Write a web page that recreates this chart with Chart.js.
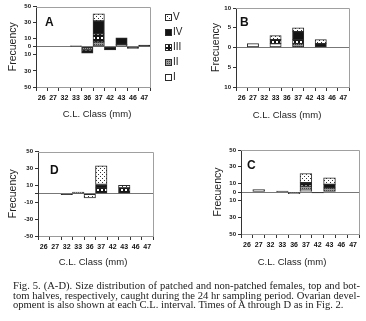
<!DOCTYPE html>
<html>
<head>
<meta charset="utf-8">
<script src="https://cdn.jsdelivr.net/npm/chart.js@4.4.1/dist/chart.umd.min.js"></script>
<style>
  html, body { margin: 0; padding: 0; background: #fff; }
  body { width: 366px; height: 321px; position: relative; overflow: hidden; font-family: "Liberation Sans", Arial, sans-serif; color: #222; }
  canvas.panel { position: absolute; }
  .letter { position: absolute; font: bold 12px/12px "Liberation Sans", Arial, sans-serif; color: #111; }
  .xtitle { position: absolute; width: 120px; margin-left: -60px; text-align: center; font: 9.5px/10px "Liberation Sans", Arial, sans-serif; color: #222; }
  .item { position: absolute; left: 165px; height: 10px; white-space: nowrap; font: 10px/10px "Liberation Sans", Arial, sans-serif; color: #222; }
  .item canvas { position: absolute; left: 0; top: 2px; }
  .item span { position: absolute; left: 8px; top: 0; }
  .caption { position: absolute; left: 13px; top: 281px; width: 347px; font: 10.6px/9.6px "Liberation Serif", "Times New Roman", serif; color: #1a1a1a; }
  .caption div { text-align: justify; text-align-last: justify; white-space: nowrap; }
  .caption div.last { text-align-last: left; }
</style>
</head>
<body>
<canvas id="chartA" class="panel" width="160" height="122" style="left:0;top:0"></canvas>
<canvas id="chartB" class="panel" width="163" height="122" style="left:203px;top:0"></canvas>
<canvas id="chartD" class="panel" width="165" height="130" style="left:0;top:140px"></canvas>
<canvas id="chartC" class="panel" width="166" height="130" style="left:200px;top:140px"></canvas>

<div class="letter" style="left:45px;top:16px">A</div>
<div class="letter" style="left:240px;top:16px">B</div>
<div class="letter" style="left:50px;top:164px">D</div>
<div class="letter" style="left:247px;top:159px">C</div>

<div class="xtitle" style="left:97px;top:109px">C.L. Class (mm)</div>
<div class="xtitle" style="left:287px;top:110px">C.L. Class (mm)</div>
<div class="xtitle" style="left:93px;top:257px">C.L. Class (mm)</div>
<div class="xtitle" style="left:292px;top:257px">C.L. Class (mm)</div>

<div id="legend"></div>

<div class="caption">
  <div>Fig. 5. (A-D). Size distribution of patched and non-patched females, top and bot-</div>
  <div>tom halves, respectively, caught during the 24 hr sampling period. Ovarian devel-</div>
  <div class="last">opment is also shown at each C.L. interval. Times of A through D as in Fig. 2.</div>
</div>

<script>
const categories = ['26', '27', '32', '33', '36', '37', '42', '43', '46', '47'];
const stages = ['I', 'II', 'III', 'IV', 'V'];

// panel A (top = patched, bottom = non-patched)
const aI   = [0, 0, 0, 0, 0, 0, 0, 0, 0, 0];
const aII  = [0, 0, 0, 0, -4, 6, 0, 3, 0, 0];
const aIII = [0, 0, 0, 0, -4, 10, 0, 0, 0, 0];
const aIV  = [0, 0, 0, 1, 0, 16, -4, 8, -2, 2];
const aV   = [0, 0, 0, 0, 0, 9, 0, 0, 0, 0];

// panel B
const bI   = [0, 1, 0, 1, 0, 0, 0, 0, 0, 0];
const bII  = [0, 0, 0, 0, 0, 1, 0, 0, 0, 0];
const bIII = [0, 0, 0, 1, 0, 1, 0, 0, 0, 0];
const bIV  = [0, 0, 0, 0, 0, 2, 0, 1, 0, 0];
const bV   = [0, 0, 0, 1, 0, 1, 0, 1, 0, 0];

// panel C
const cI   = [0, 3, 0, 0, 0, 2, 0, 0, 0, 0];
const cII  = [0, 0, 0, 0, -2, 5, 0, 5, 0, 0];
const cIII = [0, 0, 0, 1, 0, 4, 0, 0, 0, 0];
const cIV  = [0, 0, 0, 0, 0, 0, -1, 4, 0, 0];
const cV   = [0, 0, 0, 0, 0, 11, 0, 8, 0, 0];

// panel D
const dI   = [0, 0, 0, 0, 0, 0, 0, 0, 0, 0];
const dII  = [0, 0, 0, 2, 0, 0, 0, 0, 0, 0];
const dIII = [0, 0, 0, 0, 0, 7, 0, 7, 0, 0];
const dIV  = [0, 0, -1, 0, 0, 4, 0, 0, 0, 0];
const dV   = [0, 0, 0, 0, -5, 22, 0, 3, 0, 0];

const ticksWide = [50, 30, 10, 0, -10, -30, -50];
const ticksNarrow = [10, 5, 0, -5, -10];

function makePattern(kind) {
    const c = document.createElement('canvas');
    c.width = 4;
    c.height = 4;
    const g = c.getContext('2d');
    if (kind === 'V') {
        g.fillStyle = '#fff';
        g.fillRect(0, 0, 4, 4);
        g.fillStyle = '#333';
        g.fillRect(0, 0, 1, 1);
        g.fillRect(2, 2, 1, 1);
    } else if (kind === 'IV') {
        g.fillStyle = '#141414';
        g.fillRect(0, 0, 4, 4);
    } else if (kind === 'III') {
        g.fillStyle = '#151515';
        g.fillRect(0, 0, 4, 4);
        g.fillStyle = '#fff';
        g.fillRect(1, 1, 2, 2);
    } else if (kind === 'II') {
        g.fillStyle = '#9a9a9a';
        g.fillRect(0, 0, 4, 4);
        g.fillStyle = '#444';
        g.fillRect(0, 0, 1, 1);
        g.fillRect(2, 2, 1, 1);
        g.fillRect(2, 0, 1, 1);
        g.fillRect(0, 2, 1, 1);
    } else {
        g.fillStyle = '#fff';
        g.fillRect(0, 0, 4, 4);
    }
    return g.createPattern(c, 'repeat');
}

const fills = stages.map(makePattern);

const framePlugin = {
    id: 'frame',
    afterDraw(chart) {
        const a = chart.chartArea;
        const ctx = chart.ctx;
        ctx.save();
        ctx.strokeStyle = '#a0a0a0';
        ctx.lineWidth = 1;
        ctx.beginPath();
        ctx.moveTo(Math.round(a.left), Math.round(a.top) + 0.5);
        ctx.lineTo(Math.round(a.right) + 0.5, Math.round(a.top) + 0.5);
        ctx.lineTo(Math.round(a.right) + 0.5, Math.round(a.bottom));
        ctx.stroke();
        ctx.restore();
    }
};

function buildPanel(id, series, tickList, max, showZero, g) {
    return new Chart(document.getElementById(id), {
        type: 'bar',
        data: {
            labels: categories,
            datasets: stages.map((name, i) => ({
                label: name,
                data: series[i].map(v => (v === 0 ? null : v)),
                backgroundColor: fills[i],
                borderColor: '#2b2b2b',
                borderWidth: 1,
                borderSkipped: false,
                barPercentage: 1,
                categoryPercentage: 1
            }))
        },
        options: {
            responsive: false,
            animation: false,
            layout: {
                padding: { left: 0, top: g.padTop, right: g.padRight, bottom: 0 }
            },
            plugins: {
                legend: { display: false },
                tooltip: { enabled: false }
            },
            scales: {
                x: {
                    stacked: true,
                    grid: { offset: true, drawOnChartArea: false, tickLength: 4, color: '#333' },
                    border: { color: '#9a9a9a' },
                    ticks: {
                        autoSkip: false,
                        maxRotation: 0,
                        padding: 3,
                        color: '#111',
                        font: { family: 'Liberation Sans', size: 7, weight: 'bold' }
                    },
                    afterFit: scale => { scale.height = g.xHeight; }
                },
                y: {
                    stacked: true,
                    min: -max,
                    max: max,
                    afterBuildTicks: scale => {
                        scale.ticks = tickList.map(v => ({ value: v }));
                    },
                    ticks: {
                        padding: 2,
                        color: '#111',
                        font: { family: 'Liberation Sans', size: 6, weight: 'bold' },
                        callback: v => (v === 0 ? (showZero ? '0' : '') : (showZero ? Math.abs(v) : v))
                    },
                    grid: {
                        color: ctx => (ctx.tick && ctx.tick.value === 0 ? '#777' : 'rgba(0,0,0,0)'),
                        tickColor: '#333',
                        tickLength: 3
                    },
                    border: { color: '#333' },
                    title: {
                        display: true,
                        text: 'Frecuency',
                        color: '#222',
                        font: { family: 'Liberation Sans', size: 10.5, weight: 'normal' },
                        padding: { top: g.yTitlePad, bottom: 0 }
                    },
                    afterFit: scale => { scale.width = g.yWidth; }
                }
            }
        },
        plugins: [framePlugin]
    });
}

buildPanel('chartA', [aI, aII, aIII, aIV, aV], ticksWide, 50, true,
    { padTop: 6.5, padRight: 10, yWidth: 36, xHeight: 35, yTitlePad: 7.2 });
buildPanel('chartB', [bI, bII, bIII, bIV, bV], ticksNarrow, 10, true,
    { padTop: 8, padRight: 17, yWidth: 33, xHeight: 35, yTitlePad: 6.7 });
buildPanel('chartD', [dI, dII, dIII, dIV, dV], ticksWide, 50, false,
    { padTop: 11.5, padRight: 12, yWidth: 38, xHeight: 34, yTitlePad: 6.7 });
buildPanel('chartC', [cI, cII, cIII, cIV, cV], ticksWide, 50, true,
    { padTop: 10, padRight: 7, yWidth: 41, xHeight: 36, yTitlePad: 11.7 });

// legend, V at the top down to I
const legendY = [17, 32, 47, 62, 77];
const legend = document.getElementById('legend');
stages.slice().reverse().forEach((name, k) => {
    const item = document.createElement('div');
    item.className = 'item';
    item.style.top = (legendY[k] - 5) + 'px';
    const sw = document.createElement('canvas');
    sw.width = 7;
    sw.height = 7;
    const sg = sw.getContext('2d');
    sg.fillStyle = fills[stages.indexOf(name)];
    sg.fillRect(0, 0, 7, 7);
    sg.strokeStyle = '#2b2b2b';
    sg.strokeRect(0.5, 0.5, 6, 6);
    const label = document.createElement('span');
    label.textContent = name;
    item.appendChild(sw);
    item.appendChild(label);
    legend.appendChild(item);
});
</script>
</body>
</html>
